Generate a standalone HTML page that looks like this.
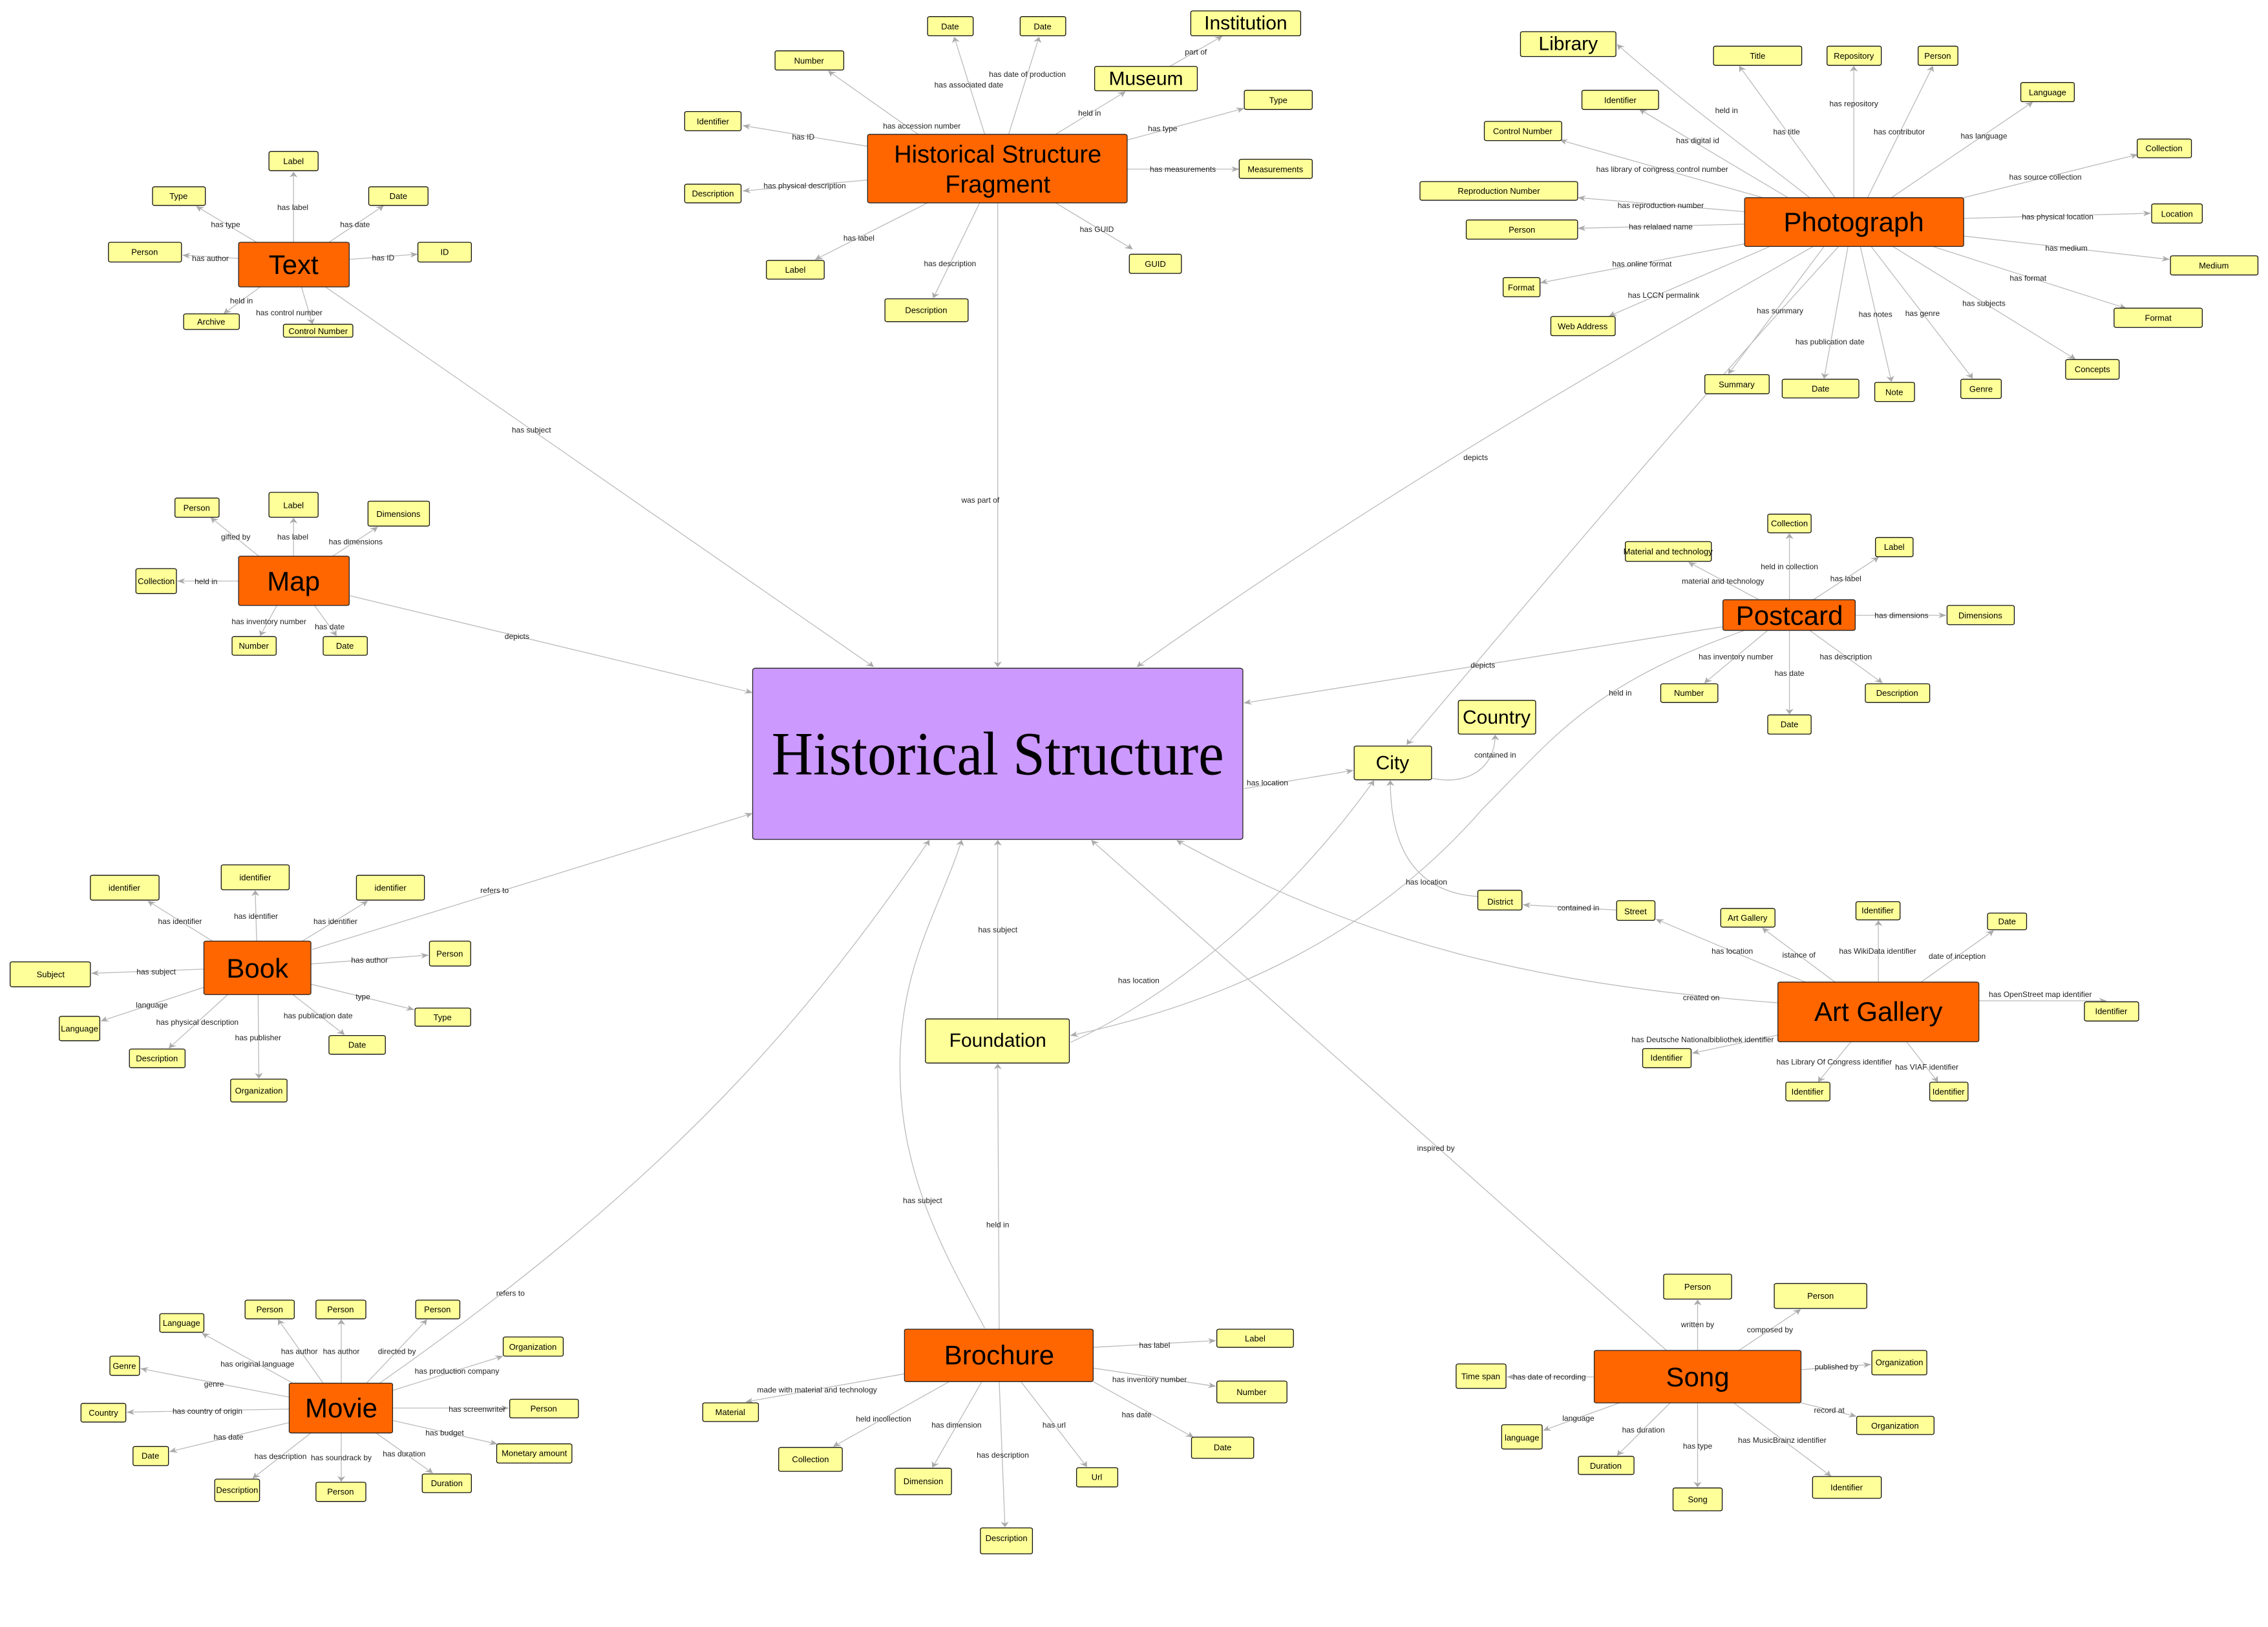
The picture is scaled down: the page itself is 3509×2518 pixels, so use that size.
<!DOCTYPE html>
<html><head><meta charset="utf-8"><style>
html,body{margin:0;padding:0;background:#fff}
svg{display:block}
text{font-family:"Liberation Sans",sans-serif;fill:#000;text-anchor:middle;dominant-baseline:central;transform-box:fill-box;transform-origin:center;transform:scale(0.89396,1.24544)}
.n{font-size:13px}
.l{font-size:12px;fill:#222}
.b{font-size:42px}
.h{font-size:38px}
.m{font-size:30px}
.e{fill:none;stroke:#bbb;stroke-width:1.3px;vector-effect:non-scaling-stroke}
.s{fill:#ffff99;stroke:#111;stroke-width:1.3px;vector-effect:non-scaling-stroke}
.o{fill:#ff6600;stroke:#222;stroke-width:1.3px;vector-effect:non-scaling-stroke}
.p{fill:#cc99ff;stroke:#222;stroke-width:1.3px;vector-effect:non-scaling-stroke}
</style></head><body>
<svg width="3509" height="2518" viewBox="0 0 3509 2518" xmlns="http://www.w3.org/2000/svg">
<defs><marker id="a" viewBox="0 0 10 10" refX="9" refY="5" markerWidth="11" markerHeight="11" markerUnits="userSpaceOnUse" orient="auto"><path d="M0,0 L10,5 L0,10 L3,5 z" fill="#aaa"/></marker></defs>
<g transform="scale(1.11862,0.80293)">
<g marker-end="url(#a)">
<path class="e" d="M406,467L406,332"/><path class="e" d="M355,467L272,398"/><path class="e" d="M455,467L530,397"/>
<path class="e" d="M330,498L253,492"/><path class="e" d="M483,500L577,490"/><path class="e" d="M360,553L310,604"/>
<path class="e" d="M417,553L432,624"/><path class="e" d="M450,553L1208,1285"/>
<path class="e" d="M1362,259L1320,72"/><path class="e" d="M1395,259L1437,72"/><path class="e" d="M1270,259L1146,137"/>
<path class="e" d="M1200,282L1028,242"/><path class="e" d="M1200,347L1028,368"/><path class="e" d="M1460,259L1556,177"/>
<path class="e" d="M1559,270L1720,209"/><path class="e" d="M1559,326L1713,326"/><path class="e" d="M1460,391L1566,480"/>
<path class="e" d="M1283,391L1128,500"/><path class="e" d="M1355,391L1291,574"/><path class="e" d="M1380,391L1380,1285"/>
<path class="e" d="M1618,128L1690,70"/>
<path class="e" d="M358,1072L292,998"/><path class="e" d="M406,1072L406,999"/><path class="e" d="M460,1072L522,1016"/>
<path class="e" d="M330,1120L246,1120"/><path class="e" d="M383,1167L360,1225"/><path class="e" d="M435,1167L465,1225"/>
<path class="e" d="M483,1148L1040,1335"/>
<path class="e" d="M2503,381C2420,290 2330,200 2237,86"/>
<path class="e" d="M2538,381L2406,128"/><path class="e" d="M2564,381L2564,128"/><path class="e" d="M2583,381L2673,128"/>
<path class="e" d="M2616,381L2811,197"/><path class="e" d="M2473,381L2268,211"/><path class="e" d="M2438,381L2158,270"/>
<path class="e" d="M2716,381L2956,298"/><path class="e" d="M2413,408L2183,381"/><path class="e" d="M2413,432L2183,440"/>
<path class="e" d="M2716,421L2974,411"/><path class="e" d="M2716,455L3000,500"/><path class="e" d="M2673,475L2940,594"/>
<path class="e" d="M2413,470L2131,545"/><path class="e" d="M2448,475L2226,609"/><path class="e" d="M2618,475L2870,692"/>
<path class="e" d="M2523,475L2391,720"/><path class="e" d="M2556,475L2523,729"/><path class="e" d="M2573,475L2616,735"/>
<path class="e" d="M2588,475L2728,729"/>
<path class="e" d="M2508,475C2200,720 1900,960 1573,1285"/>
<path class="e" d="M2543,475C2330,800 2150,1100 1946,1435"/>
<path class="e" d="M2475,1156L2475,1029"/><path class="e" d="M2433,1156L2336,1084"/><path class="e" d="M2508,1156L2598,1074"/>
<path class="e" d="M2566,1186L2691,1186"/><path class="e" d="M2445,1215L2358,1316"/><path class="e" d="M2475,1215L2475,1376"/>
<path class="e" d="M2503,1215L2603,1316"/><path class="e" d="M2383,1208L1721,1355"/>
<path class="e" d="M2413,1215C2200,1320 2150,1420 2050,1560 C1900,1800 1700,1930 1481,1996"/>
<path class="e" d="M1721,1520L1871,1485"/>
<path class="e" d="M1980,1500C2030,1515 2068,1480 2068,1417"/>
<path class="e" d="M1481,2009C1650,1900 1800,1700 1900,1505"/>
<path class="e" d="M2044,1728C1960,1720 1923,1640 1923,1505"/>
<path class="e" d="M1380,1964L1380,1620"/><path class="e" d="M1382,2562L1380,2051"/>
<path class="e" d="M1362,2560C1300,2400 1240,2250 1245,2030 C1250,1850 1300,1750 1330,1620"/>
<path class="e" d="M525,2666C900,2300 1100,2000 1285,1620"/>
<path class="e" d="M432,1830L1040,1568"/>
<path class="e" d="M2459,1933C2150,1900 1900,1830 1628,1620"/>
<path class="e" d="M2305,2603L1510,1620"/>
<path class="e" d="M2236,1754L2107,1744"/><path class="e" d="M2497,1893L2291,1772"/>
<path class="e" d="M2538,1893L2438,1789"/><path class="e" d="M2598,1893L2598,1775"/><path class="e" d="M2657,1893L2757,1794"/>
<path class="e" d="M2737,1929L2913,1929"/><path class="e" d="M2459,1995L2341,2030"/><path class="e" d="M2560,2008L2515,2085"/>
<path class="e" d="M2637,2008L2680,2085"/>
<path class="e" d="M2348,2603L2348,2506"/><path class="e" d="M2405,2603L2490,2524"/><path class="e" d="M2491,2640L2587,2630"/>
<path class="e" d="M2491,2704L2567,2730"/><path class="e" d="M2398,2704L2532,2845"/><path class="e" d="M2348,2704L2348,2866"/>
<path class="e" d="M2310,2704L2237,2805"/><path class="e" d="M2240,2704L2135,2757"/><path class="e" d="M2205,2654L2085,2654"/>
<path class="e" d="M1251,2648L1032,2702"/><path class="e" d="M1313,2663L1153,2788"/><path class="e" d="M1358,2663L1290,2828"/>
<path class="e" d="M1382,2663L1390,2943"/><path class="e" d="M1412,2663L1503,2827"/><path class="e" d="M1512,2597L1681,2584"/>
<path class="e" d="M1512,2637L1681,2672"/><path class="e" d="M1512,2663L1650,2770"/>
<path class="e" d="M447,2666L385,2544"/><path class="e" d="M472,2666L472,2544"/><path class="e" d="M507,2666L590,2544"/>
<path class="e" d="M405,2666L280,2570"/><path class="e" d="M400,2693L195,2638"/><path class="e" d="M400,2716L176,2722"/>
<path class="e" d="M400,2742L235,2798"/><path class="e" d="M430,2762L350,2849"/><path class="e" d="M472,2762L472,2855"/>
<path class="e" d="M520,2762L598,2839"/><path class="e" d="M543,2738L687,2783"/><path class="e" d="M543,2714L703,2714"/>
<path class="e" d="M543,2680L695,2614"/>
<path class="e" d="M294,1814L205,1737"/><path class="e" d="M355,1814L353,1717"/><path class="e" d="M418,1814L508,1737"/>
<path class="e" d="M282,1868L127,1876"/><path class="e" d="M430,1858L592,1841"/><path class="e" d="M282,1903L140,1968"/>
<path class="e" d="M430,1897L572,1946"/><path class="e" d="M315,1917L234,2020"/><path class="e" d="M405,1917L476,1994"/>
<path class="e" d="M357,1917L358,2078"/>
</g>

<rect class="p" x="1041" y="1288" width="678" height="330" rx="4"/>
<g>
<rect class="o" x="330" y="467" width="153" height="86" rx="3"/>
<rect class="o" x="1200" y="259" width="359" height="132" rx="3"/>
<rect class="o" x="330" y="1072" width="153" height="95" rx="3"/>
<rect class="o" x="2413" y="381" width="303" height="94" rx="3"/>
<rect class="o" x="2383" y="1156" width="183" height="59" rx="3"/>
<rect class="o" x="1251" y="2562" width="261" height="101" rx="3"/>
<rect class="o" x="400" y="2666" width="143" height="96" rx="3"/>
<rect class="o" x="282" y="1814" width="148" height="103" rx="3"/>
<rect class="o" x="2459" y="1893" width="278" height="115" rx="3"/>
<rect class="o" x="2205" y="2603" width="286" height="101" rx="3"/>
</g>
<g>
<rect class="s" x="372" y="292" width="68" height="37" rx="3"/>
<rect class="s" x="211" y="360" width="73" height="36" rx="3"/>
<rect class="s" x="510" y="360" width="82" height="36" rx="3"/>
<rect class="s" x="150" y="467" width="101" height="38" rx="3"/>
<rect class="s" x="578" y="467" width="74" height="38" rx="3"/>
<rect class="s" x="254" y="605" width="77" height="30" rx="3"/>
<rect class="s" x="392" y="625" width="96" height="25" rx="3"/>
<rect class="s" x="1283" y="32" width="63" height="37" rx="3"/>
<rect class="s" x="1411" y="32" width="63" height="37" rx="3"/>
<rect class="s" x="1072" y="98" width="95" height="37" rx="3"/>
<rect class="s" x="947" y="215" width="78" height="37" rx="3"/>
<rect class="s" x="947" y="355" width="78" height="36" rx="3"/>
<rect class="s" x="1060" y="502" width="80" height="36" rx="3"/>
<rect class="s" x="1224" y="576" width="115" height="44" rx="3"/>
<rect class="s" x="1514" y="128" width="142" height="47" rx="3"/>
<rect class="s" x="1647" y="21" width="152" height="48" rx="3"/>
<rect class="s" x="1721" y="174" width="94" height="37" rx="3"/>
<rect class="s" x="1714" y="307" width="101" height="37" rx="3"/>
<rect class="s" x="1562" y="490" width="72" height="37" rx="3"/>
<rect class="s" x="242" y="960" width="61" height="37" rx="3"/>
<rect class="s" x="372" y="949" width="68" height="48" rx="3"/>
<rect class="s" x="509" y="966" width="85" height="48" rx="3"/>
<rect class="s" x="188" y="1096" width="56" height="48" rx="3"/>
<rect class="s" x="321" y="1227" width="61" height="36" rx="3"/>
<rect class="s" x="447" y="1227" width="61" height="36" rx="3"/>
<rect class="s" x="2103" y="61" width="132" height="48" rx="3"/>
<rect class="s" x="2370" y="89" width="122" height="37" rx="3"/>
<rect class="s" x="2527" y="89" width="75" height="37" rx="3"/>
<rect class="s" x="2653" y="89" width="55" height="37" rx="3"/>
<rect class="s" x="2795" y="159" width="74" height="37" rx="3"/>
<rect class="s" x="2188" y="174" width="106" height="37" rx="3"/>
<rect class="s" x="2053" y="234" width="107" height="37" rx="3"/>
<rect class="s" x="2956" y="268" width="75" height="36" rx="3"/>
<rect class="s" x="1964" y="350" width="218" height="36" rx="3"/>
<rect class="s" x="2028" y="424" width="154" height="37" rx="3"/>
<rect class="s" x="2976" y="393" width="70" height="37" rx="3"/>
<rect class="s" x="3002" y="493" width="121" height="37" rx="3"/>
<rect class="s" x="2079" y="535" width="51" height="37" rx="3"/>
<rect class="s" x="2924" y="594" width="122" height="37" rx="3"/>
<rect class="s" x="2145" y="610" width="89" height="37" rx="3"/>
<rect class="s" x="2857" y="693" width="74" height="38" rx="3"/>
<rect class="s" x="2358" y="722" width="89" height="37" rx="3"/>
<rect class="s" x="2465" y="731" width="106" height="36" rx="3"/>
<rect class="s" x="2593" y="737" width="55" height="37" rx="3"/>
<rect class="s" x="2712" y="731" width="56" height="37" rx="3"/>
<rect class="s" x="2445" y="991" width="60" height="36" rx="3"/>
<rect class="s" x="2248" y="1044" width="119" height="38" rx="3"/>
<rect class="s" x="2594" y="1036" width="52" height="37" rx="3"/>
<rect class="s" x="2693" y="1167" width="93" height="37" rx="3"/>
<rect class="s" x="2297" y="1318" width="79" height="36" rx="3"/>
<rect class="s" x="2580" y="1318" width="89" height="36" rx="3"/>
<rect class="s" x="2445" y="1378" width="60" height="37" rx="3"/>
<rect class="s" x="1873" y="1438" width="107" height="65" rx="3"/>
<rect class="s" x="2017" y="1350" width="107" height="65" rx="3"/>
<rect class="s" x="1280" y="1964" width="199" height="85" rx="3"/>
<rect class="s" x="972" y="2704" width="77" height="36" rx="3"/>
<rect class="s" x="1077" y="2790" width="88" height="46" rx="3"/>
<rect class="s" x="1238" y="2830" width="78" height="51" rx="3"/>
<rect class="s" x="1356" y="2945" width="72" height="50" rx="3"/>
<rect class="s" x="1489" y="2829" width="57" height="37" rx="3"/>
<rect class="s" x="339" y="2506" width="68" height="36" rx="3"/>
<rect class="s" x="437" y="2506" width="69" height="36" rx="3"/>
<rect class="s" x="575" y="2506" width="61" height="36" rx="3"/>
<rect class="s" x="221" y="2532" width="61" height="36" rx="3"/>
<rect class="s" x="152" y="2614" width="41" height="37" rx="3"/>
<rect class="s" x="112" y="2705" width="62" height="36" rx="3"/>
<rect class="s" x="184" y="2788" width="49" height="37" rx="3"/>
<rect class="s" x="297" y="2851" width="62" height="43" rx="3"/>
<rect class="s" x="437" y="2857" width="69" height="37" rx="3"/>
<rect class="s" x="584" y="2841" width="68" height="36" rx="3"/>
<rect class="s" x="687" y="2783" width="104" height="37" rx="3"/>
<rect class="s" x="705" y="2697" width="95" height="36" rx="3"/>
<rect class="s" x="696" y="2577" width="83" height="37" rx="3"/>
<rect class="s" x="125" y="1687" width="95" height="48" rx="3"/>
<rect class="s" x="306" y="1667" width="94" height="48" rx="3"/>
<rect class="s" x="493" y="1687" width="94" height="48" rx="3"/>
<rect class="s" x="14" y="1854" width="111" height="48" rx="3"/>
<rect class="s" x="594" y="1814" width="57" height="48" rx="3"/>
<rect class="s" x="82" y="1959" width="56" height="47" rx="3"/>
<rect class="s" x="574" y="1943" width="77" height="35" rx="3"/>
<rect class="s" x="179" y="2022" width="77" height="36" rx="3"/>
<rect class="s" x="455" y="1996" width="78" height="36" rx="3"/>
<rect class="s" x="319" y="2080" width="78" height="44" rx="3"/>
<rect class="s" x="1683" y="2562" width="106" height="35" rx="3"/>
<rect class="s" x="1683" y="2662" width="97" height="42" rx="3"/>
<rect class="s" x="1648" y="2770" width="86" height="41" rx="3"/>
<rect class="s" x="2044" y="1716" width="61" height="38" rx="3"/>
<rect class="s" x="2236" y="1736" width="53" height="38" rx="3"/>
<rect class="s" x="2380" y="1751" width="75" height="36" rx="3"/>
<rect class="s" x="2567" y="1738" width="61" height="35" rx="3"/>
<rect class="s" x="2749" y="1760" width="54" height="32" rx="3"/>
<rect class="s" x="2883" y="1931" width="75" height="37" rx="3"/>
<rect class="s" x="2272" y="2021" width="67" height="37" rx="3"/>
<rect class="s" x="2470" y="2086" width="61" height="36" rx="3"/>
<rect class="s" x="2669" y="2086" width="53" height="36" rx="3"/>
<rect class="s" x="2301" y="2456" width="94" height="48" rx="3"/>
<rect class="s" x="2454" y="2474" width="128" height="48" rx="3"/>
<rect class="s" x="2589" y="2603" width="76" height="47" rx="3"/>
<rect class="s" x="2568" y="2730" width="107" height="35" rx="3"/>
<rect class="s" x="2507" y="2846" width="95" height="42" rx="3"/>
<rect class="s" x="2314" y="2868" width="68" height="44" rx="3"/>
<rect class="s" x="2183" y="2807" width="77" height="35" rx="3"/>
<rect class="s" x="2077" y="2746" width="56" height="47" rx="3"/>
<rect class="s" x="2014" y="2629" width="69" height="47" rx="3"/>
</g>

<text x="1380" y="1453" style="font-family:'Liberation Serif',serif;font-size:95px" textLength="700" lengthAdjust="spacingAndGlyphs">Historical Structure</text>
<text class="b" x="406" y="510">Text</text>
<text class="h" x="1380" y="298">Historical Structure</text>
<text class="h" x="1380" y="356">Fragment</text>
<text class="b" x="406" y="1120">Map</text>
<text class="b" x="2564" y="428">Photograph</text>
<text class="b" x="2475" y="1186">Postcard</text>
<text class="b" x="1382" y="2612">Brochure</text>
<text class="b" x="472" y="2714">Movie</text>
<text class="b" x="356" y="1866">Book</text>
<text class="b" x="2598" y="1950">Art Gallery</text>
<text class="b" x="2348" y="2654">Song</text>
<text class="m" x="1585" y="152">Museum</text>
<text class="m" x="1723" y="45">Institution</text>
<text class="m" x="2169" y="85">Library</text>
<text class="m" x="1926" y="1471">City</text>
<text class="m" x="2070" y="1383">Country</text>
<text class="m" x="1380" y="2006">Foundation</text>

<g>
<text class="n" x="406" y="311">Label</text><text class="n" x="247" y="378">Type</text><text class="n" x="551" y="378">Date</text>
<text class="n" x="200" y="486">Person</text><text class="n" x="615" y="486">ID</text><text class="n" x="292" y="620">Archive</text>
<text class="n" x="440" y="638">Control Number</text>
<text class="n" x="1314" y="51">Date</text><text class="n" x="1442" y="51">Date</text><text class="n" x="1119" y="117">Number</text>
<text class="n" x="986" y="234">Identifier</text><text class="n" x="986" y="373">Description</text><text class="n" x="1100" y="520">Label</text>
<text class="n" x="1281" y="598">Description</text><text class="n" x="1768" y="193">Type</text><text class="n" x="1764" y="326">Measurements</text>
<text class="n" x="1598" y="509">GUID</text>
<text class="n" x="272" y="979">Person</text><text class="n" x="406" y="974">Label</text><text class="n" x="551" y="991">Dimensions</text>
<text class="n" x="216" y="1120">Collection</text><text class="n" x="351" y="1245">Number</text><text class="n" x="477" y="1245">Date</text>
<text class="n" x="2431" y="108">Title</text><text class="n" x="2564" y="108">Repository</text><text class="n" x="2680" y="108">Person</text>
<text class="n" x="2832" y="178">Language</text><text class="n" x="2241" y="193">Identifier</text><text class="n" x="2106" y="253">Control Number</text>
<text class="n" x="2993" y="286">Collection</text><text class="n" x="2073" y="368">Reproduction Number</text><text class="n" x="2105" y="443">Person</text>
<text class="n" x="3011" y="412">Location</text><text class="n" x="3062" y="512">Medium</text><text class="n" x="2104" y="554">Format</text>
<text class="n" x="2985" y="613">Format</text><text class="n" x="2189" y="629">Web Address</text><text class="n" x="2894" y="712">Concepts</text>
<text class="n" x="2402" y="741">Summary</text><text class="n" x="2518" y="749">Date</text><text class="n" x="2620" y="756">Note</text>
<text class="n" x="2740" y="750">Genre</text>
<text class="n" x="2475" y="1009">Collection</text><text class="n" x="2307" y="1063">Material and technology</text><text class="n" x="2620" y="1054">Label</text>
<text class="n" x="2739" y="1186">Dimensions</text><text class="n" x="2336" y="1336">Number</text><text class="n" x="2624" y="1336">Description</text>
<text class="n" x="2475" y="1396">Date</text>
<text class="n" x="1010" y="2722">Material</text><text class="n" x="1121" y="2813">Collection</text><text class="n" x="1277" y="2855">Dimension</text>
<text class="n" x="1392" y="2965">Description</text><text class="n" x="1517" y="2847">Url</text>
<text class="n" x="373" y="2524">Person</text><text class="n" x="471" y="2524">Person</text><text class="n" x="605" y="2524">Person</text>
<text class="n" x="251" y="2550">Language</text><text class="n" x="172" y="2633">Genre</text><text class="n" x="143" y="2723">Country</text>
<text class="n" x="208" y="2806">Date</text><text class="n" x="328" y="2872">Description</text><text class="n" x="471" y="2875">Person</text>
<text class="n" x="618" y="2859">Duration</text><text class="n" x="739" y="2801">Monetary amount</text><text class="n" x="752" y="2715">Person</text>
<text class="n" x="737" y="2596">Organization</text>
<text class="n" x="172" y="1711">identifier</text><text class="n" x="353" y="1691">identifier</text><text class="n" x="540" y="1711">identifier</text>
<text class="n" x="70" y="1878">Subject</text><text class="n" x="622" y="1838">Person</text><text class="n" x="110" y="1983">Language</text>
<text class="n" x="612" y="1961">Type</text><text class="n" x="217" y="2040">Description</text><text class="n" x="494" y="2014">Date</text>
<text class="n" x="358" y="2102">Organization</text>
<text class="n" x="1736" y="2580">Label</text><text class="n" x="1731" y="2683">Number</text><text class="n" x="1691" y="2790">Date</text>
<text class="n" x="2075" y="1738">District</text><text class="n" x="2262" y="1757">Street</text><text class="n" x="2417" y="1769">Art Gallery</text>
<text class="n" x="2597" y="1755">Identifier</text><text class="n" x="2776" y="1776">Date</text><text class="n" x="2920" y="1949">Identifier</text>
<text class="n" x="2305" y="2039">Identifier</text><text class="n" x="2500" y="2104">Identifier</text><text class="n" x="2695" y="2104">Identifier</text>
<text class="n" x="2348" y="2480">Person</text><text class="n" x="2518" y="2498">Person</text><text class="n" x="2627" y="2626">Organization</text>
<text class="n" x="2621" y="2748">Organization</text><text class="n" x="2554" y="2867">Identifier</text><text class="n" x="2348" y="2890">Song</text>
<text class="n" x="2221" y="2825">Duration</text><text class="n" x="2105" y="2771">language</text><text class="n" x="2048" y="2653">Time span</text>
</g>

<text class="l" x="405" y="400">has label</text><text class="l" x="312" y="433">has type</text><text class="l" x="491" y="433">has date</text>
<text class="l" x="291" y="498">has author</text><text class="l" x="530" y="497">has ID</text><text class="l" x="334" y="580">held in</text>
<text class="l" x="400" y="603">has control number</text><text class="l" x="735" y="829">has subject</text>
<text class="l" x="1340" y="164">has associated date</text><text class="l" x="1421" y="143">has date of production</text>
<text class="l" x="1275" y="243">has accession number</text><text class="l" x="1111" y="264">has ID</text>
<text class="l" x="1113" y="358">has physical description</text><text class="l" x="1507" y="218">held in</text>
<text class="l" x="1608" y="248">has type</text><text class="l" x="1636" y="326">has measurements</text><text class="l" x="1517" y="442">has GUID</text>
<text class="l" x="1188" y="459">has label</text><text class="l" x="1314" y="508">has description</text><text class="l" x="1356" y="964">was part of</text>
<text class="l" x="1654" y="100">part of</text>
<text class="l" x="326" y="1035">gifted by</text><text class="l" x="405" y="1035">has label</text><text class="l" x="492" y="1044">has dimensions</text>
<text class="l" x="285" y="1121">held in</text><text class="l" x="372" y="1198">has inventory number</text><text class="l" x="456" y="1208">has date</text>
<text class="l" x="715" y="1227">depicts</text>
<text class="l" x="2388" y="213">held in</text><text class="l" x="2471" y="254">has title</text><text class="l" x="2564" y="200">has repository</text>
<text class="l" x="2627" y="254">has contributor</text><text class="l" x="2744" y="262">has language</text><text class="l" x="2348" y="271">has digital id</text>
<text class="l" x="2299" y="326">has library of congress control number</text><text class="l" x="2829" y="341">has source collection</text>
<text class="l" x="2297" y="396">has reproduction number</text><text class="l" x="2297" y="437">has relalaed name</text>
<text class="l" x="2846" y="418">has physical location</text><text class="l" x="2858" y="478">has medium</text><text class="l" x="2805" y="536">has format</text>
<text class="l" x="2271" y="509">has online format</text><text class="l" x="2301" y="569">has LCCN permalink</text><text class="l" x="2744" y="585">has subjects</text>
<text class="l" x="2462" y="599">has summary</text><text class="l" x="2531" y="659">has publication date</text><text class="l" x="2594" y="606">has notes</text>
<text class="l" x="2659" y="604">has genre</text><text class="l" x="2041" y="882">depicts</text>
<text class="l" x="2475" y="1092">held in collection</text><text class="l" x="2383" y="1120">material and technology</text>
<text class="l" x="2553" y="1115">has label</text><text class="l" x="2630" y="1186">has dimensions</text><text class="l" x="2401" y="1266">has inventory number</text>
<text class="l" x="2475" y="1298">has date</text><text class="l" x="2553" y="1266">has description</text><text class="l" x="2051" y="1282">depicts</text>
<text class="l" x="2241" y="1336">held in</text><text class="l" x="1753" y="1509">has location</text><text class="l" x="2068" y="1455">contained in</text>
<text class="l" x="1575" y="1890">has location</text><text class="l" x="1973" y="1700">has location</text>
<text class="l" x="1380" y="1792">has subject</text><text class="l" x="1380" y="2361">held in</text><text class="l" x="1276" y="2314">has subject</text>
<text class="l" x="706" y="2493">refers to</text><text class="l" x="684" y="1716">refers to</text>
<text class="l" x="2353" y="1923">created on</text><text class="l" x="1986" y="2213">inspired by</text>
<text class="l" x="2183" y="1750">contained in</text><text class="l" x="2396" y="1833">has location</text><text class="l" x="2488" y="1841">istance of</text>
<text class="l" x="2597" y="1833">has WikiData identifier</text><text class="l" x="2707" y="1843">date of inception</text>
<text class="l" x="2822" y="1917">has OpenStreet map identifier</text><text class="l" x="2355" y="2004">has Deutsche Nationalbibliothek identifier</text>
<text class="l" x="2537" y="2047">has Library Of Congress identifier</text><text class="l" x="2665" y="2057">has VIAF identifier</text>
<text class="l" x="2348" y="2553">written by</text><text class="l" x="2448" y="2563">composed by</text><text class="l" x="2540" y="2635">published by</text>
<text class="l" x="2530" y="2718">record at</text><text class="l" x="2465" y="2776">has MusicBrainz identifier</text><text class="l" x="2348" y="2787">has type</text>
<text class="l" x="2273" y="2756">has duration</text><text class="l" x="2183" y="2734">language</text><text class="l" x="2143" y="2654">has date of recording</text>
<text class="l" x="1130" y="2679">made with material and technology</text><text class="l" x="1222" y="2735">held incollection</text>
<text class="l" x="1323" y="2747">has dimension</text><text class="l" x="1387" y="2805">has description</text><text class="l" x="1458" y="2747">has url</text>
<text class="l" x="1597" y="2593">has label</text><text class="l" x="1590" y="2659">has inventory number</text><text class="l" x="1572" y="2727">has date</text>
<text class="l" x="414" y="2605">has author</text><text class="l" x="472" y="2605">has author</text><text class="l" x="549" y="2605">directed by</text>
<text class="l" x="356" y="2629">has original language</text><text class="l" x="296" y="2668">genre</text><text class="l" x="287" y="2720">has country of origin</text>
<text class="l" x="316" y="2770">has date</text><text class="l" x="388" y="2807">has description</text><text class="l" x="472" y="2810">has soundrack by</text>
<text class="l" x="559" y="2802">has duration</text><text class="l" x="615" y="2762">has budget</text><text class="l" x="660" y="2716">has screenwriter</text>
<text class="l" x="632" y="2643">has production company</text>
<text class="l" x="249" y="1776">has identifier</text><text class="l" x="354" y="1766">has identifier</text><text class="l" x="464" y="1776">has identifier</text>
<text class="l" x="216" y="1873">has subject</text><text class="l" x="511" y="1851">has author</text><text class="l" x="210" y="1937">language</text>
<text class="l" x="502" y="1921">type</text><text class="l" x="273" y="1970">has physical description</text><text class="l" x="440" y="1958">has publication date</text>
<text class="l" x="357" y="2000">has publisher</text>
</g>
</svg>
</body></html>
